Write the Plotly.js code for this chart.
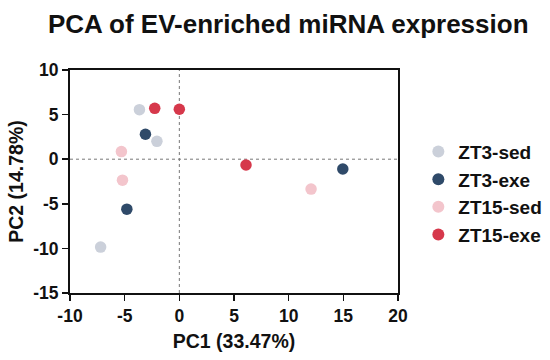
<!DOCTYPE html>
<html>
<head>
<meta charset="utf-8">
<script src="https://cdn.plot.ly/plotly-3.0.1.min.js"></script>
<style>html,body{margin:0;padding:0;background:#fff;}#chart{width:550px;height:360px;}</style>
</head>
<body>
<div id="chart"></div>
<script>
const groups = ["ZT3-sed", "ZT3-exe", "ZT15-sed", "ZT15-exe"];
const colors = ["#cbd0da", "#2f4a69", "#f3c5cc", "#d6384b"];
const pc1_ZT3sed = [-3.65, -2.05, -7.2];
const pc2_ZT3sed = [5.55, 2.0, -9.85];
const pc1_ZT3exe = [-3.1, -4.8, 14.95];
const pc2_ZT3exe = [2.8, -5.6, -1.1];
const pc1_ZT15sed = [-5.3, -5.2, 12.05];
const pc2_ZT15sed = [0.85, -2.35, -3.35];
const pc1_ZT15exe = [-2.25, 0.0, 6.1];
const pc2_ZT15exe = [5.7, 5.6, -0.65];
const xs = [pc1_ZT3sed, pc1_ZT3exe, pc1_ZT15sed, pc1_ZT15exe];
const ys = [pc2_ZT3sed, pc2_ZT3exe, pc2_ZT15sed, pc2_ZT15exe];
const xTicks = [-10, -5, 0, 5, 10, 15, 20];
const yTicks = [-15, -10, -5, 0, 5, 10];

const font = "Liberation Sans, Arial, sans-serif";
const traces = groups.map((g, i) => ({
  type: "scatter", mode: "markers", name: "<b>" + g + "</b>",
  legendgroup: g,
  x: xs[i], y: ys[i],
  marker: {color: colors[i], size: 11.5, line: {width: 0}},
  cliponaxis: false
}));

const layout = {
  width: 550, height: 360,
  margin: {l: 70, r: 152, t: 70, b: 67, autoexpand: false},
  paper_bgcolor: "#fff", plot_bgcolor: "#fff",
  font: {family: font, color: "#000"},
  title: {text: "<b>PCA of EV-enriched miRNA expression</b>", x: 0.524, xanchor: "center", y: 0.935, yanchor: "middle",
          font: {size: 26, family: font, color: "#111"}},
  xaxis: {range: [-10, 20], tickvals: xTicks, ticktext: xTicks.map(v => "<b>" + v + "</b>"),
          showgrid: false, zeroline: false, showline: true, linecolor: "#111", linewidth: 2,
          ticks: "outside", ticklen: 6, tickwidth: 1.5, tickcolor: "#111",
          tickfont: {size: 17.5, family: font, color: "#111"},
          title: {text: "<b>PC1 (33.47%)</b>", font: {size: 19.5, family: font, color: "#111"}, standoff: 9},
          mirror: true, automargin: true},
  yaxis: {range: [-15, 10], tickvals: yTicks, ticktext: yTicks.map(v => "<b>" + v + "</b>"),
          showgrid: false, zeroline: false, showline: true, linecolor: "#111", linewidth: 2,
          ticks: "outside", ticklen: 6, tickwidth: 1.5, tickcolor: "#111",
          tickfont: {size: 17.5, family: font, color: "#111"},
          title: {text: "<b>PC2 (14.78%)</b>", font: {size: 19.5, family: font, color: "#111"}, standoff: 4},
          mirror: true, automargin: false},
  shapes: [
    {type: "line", xref: "x", yref: "paper", x0: 0, x1: 0, y0: 0, y1: 1, line: {color: "#777", width: 1, dash: "dot"}, layer: "below"},
    {type: "line", xref: "paper", yref: "y", x0: 0, x1: 1, y0: 0, y1: 0, line: {color: "#777", width: 1, dash: "dot"}, layer: "below"}
  ],
  legend: {x: 1.062, xanchor: "left", y: 0.448, yanchor: "middle", font: {size: 19, family: font, color: "#111"},
           itemsizing: "constant", tracegroupgap: 0, bgcolor: "rgba(0,0,0,0)"},
  showlegend: true
};
Plotly.newPlot("chart", traces, layout, {displayModeBar: false, staticPlot: true});
</script>
</body>
</html>
